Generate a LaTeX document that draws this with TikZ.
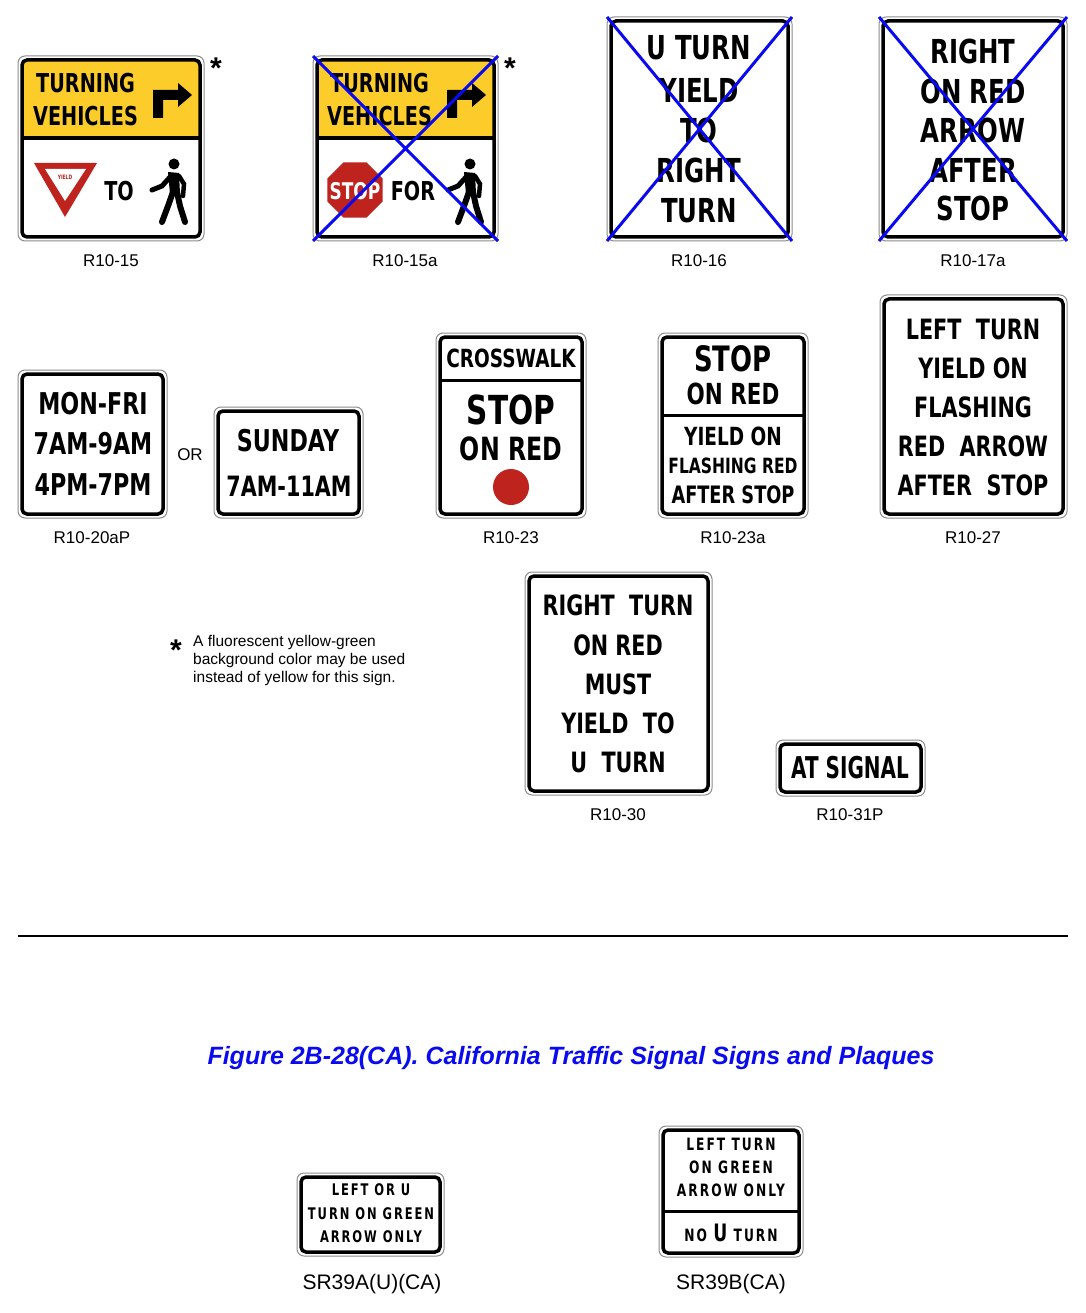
\documentclass[tikz,border=0pt]{standalone}
\usepackage{fontspec}
\setmainfont{Liberation Sans}
\newfontfamily\sg{DejaVu Sans Bold}[FakeStretch=0.74]
\newfontfamily\sgw{DejaVu Sans Bold}[FakeStretch=0.72,LetterSpace=12]
\definecolor{syel}{RGB}{252,204,42}
\definecolor{sred}{RGB}{190,35,30}
\definecolor{xblue}{RGB}{10,10,240}
\newcommand\sgn[5]{%
 \draw[rounded corners=7,black!45,line width=1] (#1,#2) rectangle (#3,#4);
 \draw[rounded corners=5,line width=3.5] ({#1+4},{#2+4}) rectangle ({#3-4},{#4-4});
 \coordinate (#5) at ({(#1+#3)/2},{(#2+#4)/2});}
\newcommand\xx[4]{\draw[xblue,line width=3] (#1,#2) -- (#3,#4) (#1,#4) -- (#3,#2);}
\newcommand\ped[2]{\begin{scope}[shift={(#1,#2)}]
 \fill (4,-28) circle (5.5);
 \fill (-2,-20) -- (9,-19) -- (10,2) -- (0,2) -- cycle;
 \draw[line width=5,line cap=round] (1,-16) -- (-8,-6) -- (-18,-2);
 \draw[line width=4.5,line cap=round] (9,-16) -- (14,-8) -- (13,4);
 \draw[line width=6,line cap=round] (3,0) -- (-2,14) -- (-8,30);
 \draw[line width=6,line cap=round] (7,0) -- (10,14) -- (15,30);
\end{scope}}
\begin{document}
\begin{tikzpicture}[x=1pt,y=-1pt,
 st/.style={font=\sg\fontsize{30}{30}\selectfont,inner sep=0},
 lab/.style={font=\fontsize{17}{17}\selectfont,inner sep=0}]
\useasboundingbox[fill=white] (0,0) rectangle (1085,1313);
% R10-15
\fill[syel,rounded corners=5] (22,60) rectangle (200,138);
\sgn{18}{56}{204}{241}{s1}
\draw[line width=3.5] (22,138) -- (200,138);
\node[st,font=\sg\fontsize{26}{26}\selectfont,anchor=west] (s1a) at (36,83) {TURNING};
\node[st,font=\sg\fontsize{26}{26}\selectfont,anchor=west] (s1b) at (33,116) {VEHICLES};
\fill (153,118) -- (153,90) -- (178,90) -- (178,83) -- (192,95) -- (178,107) -- (178,100) -- (163,100) -- (163,118) -- cycle;
\fill[sred] (34,163) -- (97,163) -- (65,217) -- cycle;
\fill[white] (45,169) -- (86,169) -- (65,201) -- cycle;
\node[sred,font=\sg\fontsize{6}{6}\selectfont] at (65,177) {YIELD};
\node[st,font=\sg\fontsize{26}{26}\selectfont] (s1c) at (119,191) {TO};
\ped{170}{192}
\node[font=\fontsize{30}{30}\selectfont\bfseries] at (216,68) {*};
\node[lab] (l1) at (111,261) {R10-15};
% R10-15a
\fill[syel,rounded corners=5] (317,60) rectangle (494,138);
\sgn{313}{56}{498}{241}{s2}
\draw[line width=3.5] (317,138) -- (494,138);
\node[st,font=\sg\fontsize{26}{26}\selectfont,anchor=west] at (330,83) {TURNING};
\node[st,font=\sg\fontsize{26}{26}\selectfont,anchor=west] at (327,116) {VEHICLES};
\fill (447,118) -- (447,90) -- (472,90) -- (472,83) -- (486,95) -- (472,107) -- (472,100) -- (457,100) -- (457,118) -- cycle;
\fill[sred] (355,190) +(22.5:30) -- +(67.5:30) -- +(112.5:30) -- +(157.5:30) -- +(202.5:30) -- +(247.5:30) -- +(292.5:30) -- +(337.5:30) -- cycle;
\node[white,st,font=\sg\fontsize{23}{23}\selectfont] at (355,191) {STOP};
\node[st,font=\sg\fontsize{26}{26}\selectfont] at (413,191) {FOR};
\ped{466}{192}
\node[font=\fontsize{30}{30}\selectfont\bfseries] at (510,68) {*};
\xx{313}{56}{498}{241}
\node[lab] at (405,261) {R10-15a};
% R10-16
\sgn{607}{17}{792}{241}{s3}
\foreach \t/\y in {U TURN/48,YIELD/90,TO/130,RIGHT/170,TURN/211}
 \node[st,font=\sg\fontsize{33}{33}\selectfont] at (699,\y) {\t};
\xx{607}{17}{792}{241}
\node[lab] at (699,261) {R10-16};
% R10-17a
\sgn{879}{17}{1067}{241}{s4}
\foreach \t/\y in {RIGHT/51,ON RED/91,ARROW/130,AFTER/170,STOP/208}
 \node[st,font=\sg\fontsize{33}{33}\selectfont] at (973,\y) {\t};
\xx{879}{17}{1067}{241}
\node[lab] at (973,261) {R10-17a};
% R10-20aP
\sgn{18}{370}{167}{518}{s5}
\foreach \t/\y in {MON-FRI/404,7AM-9AM/444,4PM-7PM/485}
 \node[st,font=\sg\fontsize{30}{30}\selectfont] at (93,\y) {\t};
\node[lab] at (190,455) {OR};
\sgn{214}{407}{363}{518}{s6}
\node[st,font=\sg\fontsize{30}{30}\selectfont] at (288,441) {SUNDAY};
\node[st,font=\sg\fontsize{28}{28}\selectfont] at (289,486) {7AM-11AM};
\node[lab] at (92,538) {R10-20aP};
% R10-23
\sgn{436}{333}{586}{518}{s7}
\draw[line width=3] (440,380) -- (582,380);
\node[st,font=\sg\fontsize{25}{25}\selectfont] at (511,358) {CROSSWALK};
\node[st,font=\sg\fontsize{40}{40}\selectfont] at (511,410) {STOP};
\node[st,font=\sg\fontsize{32}{32}\selectfont] at (511,449) {ON RED};
\fill[sred] (511,487) circle (18);
\node[lab] at (511,538) {R10-23};
% R10-23a
\sgn{658}{333}{808}{518}{s8}
\draw[line width=3] (662,415) -- (804,415);
\node[st,font=\sg\fontsize{35}{35}\selectfont] at (733,359) {STOP};
\node[st,font=\sg\fontsize{29}{29}\selectfont] at (733,394) {ON RED};
\node[st,font=\sg\fontsize{25}{25}\selectfont] at (733,436) {YIELD ON};
\node[st,font=\sg\fontsize{21}{21}\selectfont] at (733,466) {FLASHING RED};
\node[st,font=\sg\fontsize{24}{24}\selectfont] at (733,495) {AFTER STOP};
\node[lab] at (733,538) {R10-23a};
% R10-27
\sgn{880}{295}{1067}{518}{s9}
\foreach \t/\y in {LEFT~~TURN/329,YIELD ON/368,FLASHING/407,RED~~ARROW/446,AFTER~~STOP/485}
 \node[st,font=\sg\fontsize{28}{28}\selectfont] at (973,\y) {\t};
\node[lab] at (973,538) {R10-27};
% note
\node[font=\fontsize{30}{30}\selectfont\bfseries] at (176,650) {*};
\node[anchor=north west,align=left,font=\fontsize{15.5}{18}\selectfont,inner sep=0] (note) at (193,635) {A fluorescent yellow-green\\background color may be used\\instead of yellow for this sign.};
% R10-30
\sgn{525}{572}{712}{795}{s10}
\foreach \t/\y in {RIGHT~~TURN/605,ON RED/645,MUST/684,YIELD~~TO/723,U~~TURN/762}
 \node[st,font=\sg\fontsize{28}{28}\selectfont] at (618,\y) {\t};
\node[lab] at (618,815) {R10-30};
% R10-31P
\sgn{776}{740}{925}{796}{s11}
\node[st,font=\sg\fontsize{30}{30}\selectfont,xscale=0.9] at (850,768) {AT~SIGNAL};
\node[lab] at (850,815) {R10-31P};
% rule
\draw[line width=2.5] (18,936) -- (1068,936);
\node[xblue,font=\fontsize{25}{25}\selectfont\bfseries\itshape] (cap) at (571,1058) {Figure 2B-28(CA). California Traffic Signal Signs and Plaques};
% SR39A
\sgn{297}{1173}{444}{1256}{s12}
\foreach \t/\y in {LEFT OR U/1190,TURN ON GREEN/1214,ARROW ONLY/1237}
 \node[st,font=\sgw\fontsize{16}{16}\selectfont] at (371,\y) {\t};
\node[lab,font=\fontsize{21}{21}\selectfont] at (372,1284) {SR39A(U)(CA)};
% SR39B
\sgn{659}{1126}{803}{1257}{s13}
\draw[line width=3] (663,1211) -- (799,1211);
\foreach \t/\y in {LEFT TURN/1144,ON GREEN/1167,ARROW ONLY/1190}
 \node[st,font=\sgw\fontsize{17}{17}\selectfont] at (731,\y) {\t};
\node[st,font=\sgw\fontsize{17}{17}\selectfont] at (731,1233) {NO {\fontsize{24}{24}\selectfont U} TURN};
\node[lab,font=\fontsize{21}{21}\selectfont] at (731,1284) {SR39B(CA)};
\end{tikzpicture}
\end{document}
